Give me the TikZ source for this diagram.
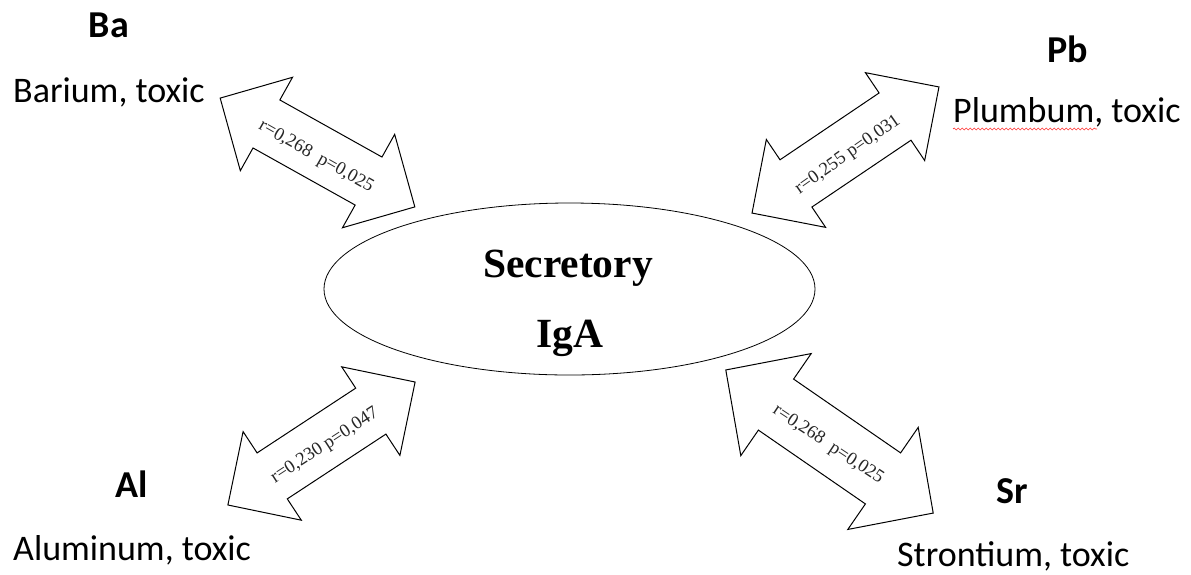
\documentclass[tikz,border=0pt]{standalone}
\usepackage{fontspec}
\setmainfont{Liberation Serif}
\newfontfamily\carlitofont{Carlito}
\usetikzlibrary{shapes.geometric,decorations.pathmorphing}
\tikzset{
  elem/.style={font=\carlitofont\fontsize{38}{42}\selectfont\bfseries, inner sep=0pt, anchor=base},
  elemname/.style={font=\carlitofont\fontsize{36}{40}\selectfont, inner sep=0pt, anchor=base west},
  igatxt/.style={font=\fontsize{41.5}{45}\selectfont\bfseries, inner sep=0pt, anchor=base},
  corr/.style={font=\fontsize{18.5}{20}\selectfont, inner sep=0pt, text=black!85},
  blockarrow/.style={draw=black, line width=1pt, fill=white, line join=miter},
}
% \dblarr{cx}{cy}{angle}{L}{W}{w}{h}
\newcommand{\dblarr}[7]{%
  \begin{scope}[shift={(#1,#2)}, rotate=#3]
    \pgfmathsetmacro{\ha}{#4/2}
    \pgfmathsetmacro{\hb}{#4/2-#7}
    \pgfmathsetmacro{\hw}{#5/2}
    \pgfmathsetmacro{\hs}{#6/2}
    \draw[blockarrow] (\ha,0) -- (\hb,\hw) -- (\hb,\hs) -- (-\hb,\hs) -- (-\hb,\hw)
      -- (-\ha,0) -- (-\hb,-\hw) -- (-\hb,-\hs) -- (\hb,-\hs) -- (\hb,-\hw) -- cycle;
  \end{scope}}
\begin{document}
\begin{tikzpicture}[x=1pt,y=-1pt]
\useasboundingbox[fill=white] (0,0) rectangle (1191,574);

% central ellipse
\node[draw, ellipse, line width=0.8pt, minimum width=491pt, minimum height=172pt, inner sep=0pt] (iga) at (569.5,289) {};
\node[igatxt] (sec) at (568,277) {Secretory};
\node[igatxt] (iganame) at (570,347) {IgA};

% arrows
\dblarr{317.5}{152.5}{-29.2}{223}{107}{55}{53}
\dblarr{845.5}{150}{34}{225.5}{106}{57}{53}
\dblarr{321.5}{443.5}{33.3}{224}{106}{55}{53}
\dblarr{829.5}{441.5}{-34.6}{252}{124}{62}{61}

% correlation labels
\node[corr, rotate=-29.5] (cba) at (316,157) {r=0,268\ \ p=0,025};
\node[corr, rotate=35] (cpb) at (848,155) {r=0,255 p=0,031};
\node[corr, rotate=33] (calum) at (325,446) {r=0,230 p=0,047};
\node[corr, rotate=-33.5] (csr) at (828,445) {r=0,268\ \ p=0,025};

% element labels
\node[elem] (ba) at (109,37) {Ba};
\node[elemname] (baname) at (13,102) {Barium, toxic};
\node[elem] (pb) at (1067.5,62) {Pb};
\node[elemname] (pbname) at (953,122) {Plumbum, toxic};
\node[elem] (al) at (131.5,497) {Al};
\node[elemname] (alname) at (13,560) {Aluminum, toxic};
\node[elem] (sr) at (1012.5,503) {Sr};
\node[elemname] (srname) at (897,566) {Strontium, toxic};

% spell-check underline
\coordinate (sq1) at (953,129);
\coordinate (sq2) at (1097,129);
\draw[red!80, line width=0.6pt, decorate, decoration={snake, amplitude=1pt, segment length=4pt}] (sq1) -- (sq2);
\end{tikzpicture}
\end{document}
